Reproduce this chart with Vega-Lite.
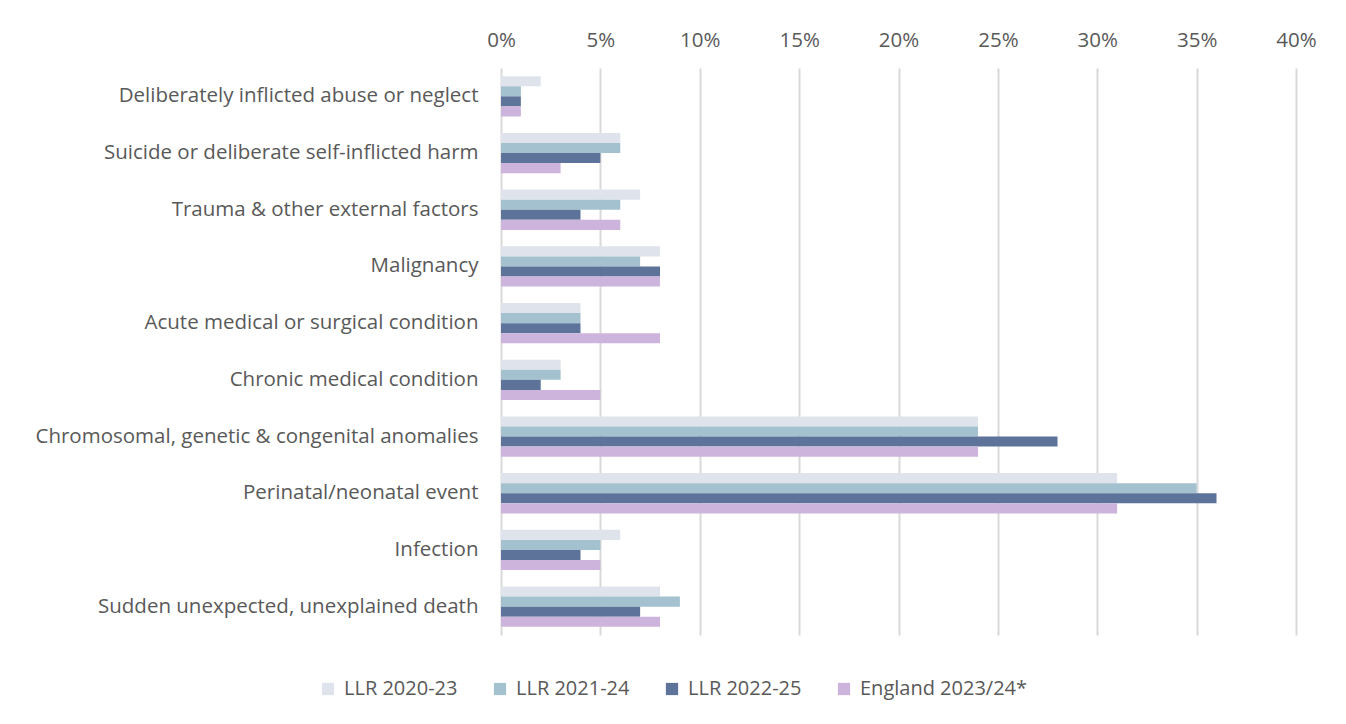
{
  "$schema": "https://vega.github.io/schema/vega-lite/v6.json",
  "autosize": "none",
  "padding": {"left": 501, "top": 68, "right": 50, "bottom": 89},
  "width": 795,
  "height": 567,
  "background": "white",
  "data": {"values": [
    {"cause": "Deliberately inflicted abuse or neglect", "series": "LLR 2020-23", "v": 0.02},
    {"cause": "Deliberately inflicted abuse or neglect", "series": "LLR 2021-24", "v": 0.01},
    {"cause": "Deliberately inflicted abuse or neglect", "series": "LLR 2022-25", "v": 0.01},
    {"cause": "Deliberately inflicted abuse or neglect", "series": "England 2023/24*", "v": 0.01},
    {"cause": "Suicide or deliberate self-inflicted harm", "series": "LLR 2020-23", "v": 0.06},
    {"cause": "Suicide or deliberate self-inflicted harm", "series": "LLR 2021-24", "v": 0.06},
    {"cause": "Suicide or deliberate self-inflicted harm", "series": "LLR 2022-25", "v": 0.05},
    {"cause": "Suicide or deliberate self-inflicted harm", "series": "England 2023/24*", "v": 0.03},
    {"cause": "Trauma & other external factors", "series": "LLR 2020-23", "v": 0.07},
    {"cause": "Trauma & other external factors", "series": "LLR 2021-24", "v": 0.06},
    {"cause": "Trauma & other external factors", "series": "LLR 2022-25", "v": 0.04},
    {"cause": "Trauma & other external factors", "series": "England 2023/24*", "v": 0.06},
    {"cause": "Malignancy", "series": "LLR 2020-23", "v": 0.08},
    {"cause": "Malignancy", "series": "LLR 2021-24", "v": 0.07},
    {"cause": "Malignancy", "series": "LLR 2022-25", "v": 0.08},
    {"cause": "Malignancy", "series": "England 2023/24*", "v": 0.08},
    {"cause": "Acute medical or surgical condition", "series": "LLR 2020-23", "v": 0.04},
    {"cause": "Acute medical or surgical condition", "series": "LLR 2021-24", "v": 0.04},
    {"cause": "Acute medical or surgical condition", "series": "LLR 2022-25", "v": 0.04},
    {"cause": "Acute medical or surgical condition", "series": "England 2023/24*", "v": 0.08},
    {"cause": "Chronic medical condition", "series": "LLR 2020-23", "v": 0.03},
    {"cause": "Chronic medical condition", "series": "LLR 2021-24", "v": 0.03},
    {"cause": "Chronic medical condition", "series": "LLR 2022-25", "v": 0.02},
    {"cause": "Chronic medical condition", "series": "England 2023/24*", "v": 0.05},
    {"cause": "Chromosomal, genetic & congenital anomalies", "series": "LLR 2020-23", "v": 0.24},
    {"cause": "Chromosomal, genetic & congenital anomalies", "series": "LLR 2021-24", "v": 0.24},
    {"cause": "Chromosomal, genetic & congenital anomalies", "series": "LLR 2022-25", "v": 0.28},
    {"cause": "Chromosomal, genetic & congenital anomalies", "series": "England 2023/24*", "v": 0.24},
    {"cause": "Perinatal/neonatal event", "series": "LLR 2020-23", "v": 0.31},
    {"cause": "Perinatal/neonatal event", "series": "LLR 2021-24", "v": 0.35},
    {"cause": "Perinatal/neonatal event", "series": "LLR 2022-25", "v": 0.36},
    {"cause": "Perinatal/neonatal event", "series": "England 2023/24*", "v": 0.31},
    {"cause": "Infection", "series": "LLR 2020-23", "v": 0.06},
    {"cause": "Infection", "series": "LLR 2021-24", "v": 0.05},
    {"cause": "Infection", "series": "LLR 2022-25", "v": 0.04},
    {"cause": "Infection", "series": "England 2023/24*", "v": 0.05},
    {"cause": "Sudden unexpected, unexplained death", "series": "LLR 2020-23", "v": 0.08},
    {"cause": "Sudden unexpected, unexplained death", "series": "LLR 2021-24", "v": 0.09},
    {"cause": "Sudden unexpected, unexplained death", "series": "LLR 2022-25", "v": 0.07},
    {"cause": "Sudden unexpected, unexplained death", "series": "England 2023/24*", "v": 0.08}
  ]},
  "mark": {"type": "bar"},
  "encoding": {
    "y": {
      "field": "cause", "type": "nominal", "sort": null,
      "scale": {"paddingInner": 0.29, "paddingOuter": 0.145},
      "axis": {"title": null, "domain": false, "ticks": false, "labelPadding": 23, "labelFontSize": 20.5, "labelColor": "#595959", "labelFont": "Open Sans", "labelLimit": 600}
    },
    "yOffset": {"field": "series", "type": "nominal", "sort": ["LLR 2020-23", "LLR 2021-24", "LLR 2022-25", "England 2023/24*"]},
    "x": {
      "field": "v", "type": "quantitative",
      "scale": {"domain": [0, 0.4], "nice": false},
      "axis": {"orient": "top", "title": null, "format": ".0%", "values": [0,0.05,0.1,0.15,0.2,0.25,0.3,0.35,0.4], "labelOverlap": false, "labelFlush": false, "domain": false, "ticks": false, "grid": true, "gridColor": "#d9d9d9", "gridWidth": 2, "labelFontSize": 20.5, "labelColor": "#595959", "labelFont": "Open Sans", "labelPadding": 18}
    },
    "color": {
      "field": "series", "type": "nominal",
      "sort": ["LLR 2020-23", "LLR 2021-24", "LLR 2022-25", "England 2023/24*"],
      "scale": {"domain": ["LLR 2020-23", "LLR 2021-24", "LLR 2022-25", "England 2023/24*"], "range": ["#dfe3eb", "#a3c1ce", "#5d7399", "#cdb4dc"]},
      "legend": {"title": null, "orient": "none", "direction": "horizontal", "columns": 4, "legendX": -183, "legendY": 611, "symbolType": "square", "symbolSize": 150, "symbolStrokeWidth": 0, "labelFontSize": 20, "labelColor": "#595959", "labelFont": "Open Sans", "labelLimit": 400, "columnPadding": 32, "labelOffset": 6}
    }
  },
  "config": {"view": {"stroke": null}}
}
